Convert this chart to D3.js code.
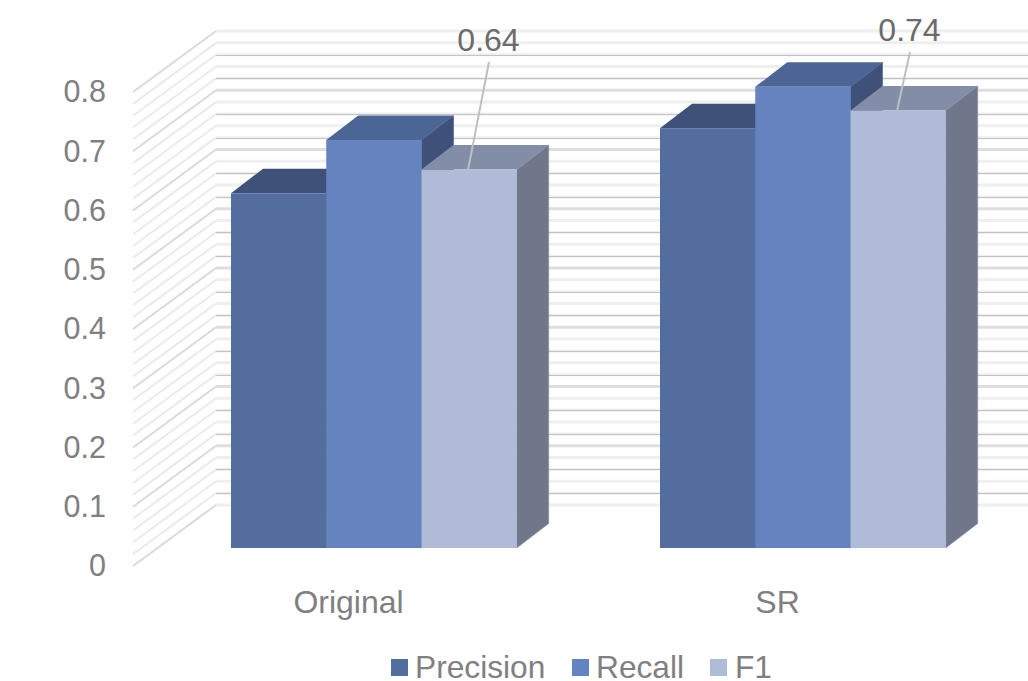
<!DOCTYPE html>
<html>
<head>
<meta charset="utf-8">
<script src="https://cdn.jsdelivr.net/npm/d3@7"></script>
<style>
  html, body { margin: 0; padding: 0; background: #fff; overflow: hidden; }
  svg { display: block; font-family: "Liberation Sans", Arial, sans-serif; }
</style>
</head>
<body>
<div id="chart"></div>
<script>
const categories = ['Original', 'SR'];
const seriesNames = ['Precision', 'Recall', 'F1'];
const precision = [0.6, 0.71];
const recall = [0.69, 0.78];
const f1 = [0.64, 0.74];
const yTicks = [0, 0.1, 0.2, 0.3, 0.4, 0.5, 0.6, 0.7, 0.8];
const seriesValues = [precision, recall, f1];

(function initBar() {
  const width = 1028, height = 681;
  const colors = {
    Precision: { front: '#546d9f', top: '#3f5079', side: '#3f5079' },
    Recall:    { front: '#6583bf', top: '#4b6695', side: '#3f5179' },
    F1:        { front: '#b0bbd8', top: '#828ea8', side: '#70778a' }
  };

  const svg = d3.select('#chart').append('svg')
    .attr('width', width)
    .attr('height', height)
    .attr('viewBox', `0 0 ${width} ${height}`);

  // same unit height, three depths: axis edge, bar front, back wall
  const yFront = d3.scaleLinear().domain([0, 0.8]).range([566, 92]);
  const yBar = d3.scaleLinear().domain([0, 0.8]).range([548, 75]);
  const yBack = d3.scaleLinear().domain([0, 0.8]).range([505, 31]);
  const wallLeft = 133, wallBack = 216;
  const depthX = 32, depthY = -24.5;

  const x0 = d3.scaleBand().domain(categories).range([159.5, 1017.5]);
  const x1 = d3.scaleBand().domain(seriesNames).range([71.5, 357.2]);

  // Grid every 0.02. The wall lines in the picture come in soft bands and
  // sharper thin lines, so draw a band for each and a thin line on some.
  const gridValues = yBack.ticks(40);
  const gridIndex = v => Math.round(v / 0.02);
  const isEdge = v => gridIndex(v) === 0 || gridIndex(v) === 40;
  const isMajor = v => gridIndex(v) % 5 === 0;
  const isSharp = v => !isMajor(v) && gridIndex(v) % 5 % 2 === 1;

  const gridG = svg.append('g').attr('class', 'grid').attr('fill', 'none');
  gridG.selectAll('line.band').data(gridValues).join('line')
    .attr('class', 'band')
    .attr('x1', wallBack).attr('x2', width)
    .attr('y1', d => yBack(d)).attr('y2', d => yBack(d))
    .attr('stroke', d => isMajor(d) && !isEdge(d) ? '#dedede' : '#efefef')
    .attr('stroke-width', 3);
  gridG.selectAll('line.sharp').data(gridValues.filter(isSharp)).join('line')
    .attr('class', 'sharp')
    .attr('x1', wallBack).attr('x2', width)
    .attr('y1', d => Math.round(yBack(d)) + 0.5).attr('y2', d => Math.round(yBack(d)) + 0.5)
    .attr('stroke', '#c2c2c2')
    .attr('stroke-width', 1);
  gridG.selectAll('line.side').data(gridValues).join('line')
    .attr('class', 'side')
    .attr('x1', wallLeft).attr('x2', wallBack)
    .attr('y1', d => yFront(d)).attr('y2', d => yBack(d))
    .attr('stroke', d => isMajor(d) ? '#dadada' : '#ebebeb')
    .attr('stroke-width', 2);

  // Bars, left to right so later ones cover earlier sides
  const barsG = svg.append('g').attr('class', 'bars');
  const bars = [];
  categories.forEach((cat, c) => {
    seriesNames.forEach((name, s) => {
      bars.push({ cat, name, value: seriesValues[s][c] });
    });
  });
  const barX = d => x0(d.cat) + x1(d.name);
  const bw = x1.bandwidth();
  const pts = arr => arr.map(p => p.join(',')).join(' ');

  const barG = barsG.selectAll('g').data(bars).join('g');
  barG.append('polygon')
    .attr('fill', d => colors[d.name].side)
    .attr('stroke', d => d3.color(colors[d.name].side).brighter(0.6))
    .attr('stroke-width', 0.75)
    .attr('points', d => {
      const r = barX(d) + bw, t = yBar(d.value), b = yBar(0);
      return pts([[r, t], [r + depthX, t + depthY], [r + depthX, b + depthY], [r, b]]);
    });
  barG.append('polygon')
    .attr('fill', d => colors[d.name].top)
    .attr('points', d => {
      const l = barX(d), t = yBar(d.value);
      return pts([[l, t], [l + depthX, t + depthY], [l + bw + depthX, t + depthY], [l + bw, t]]);
    });
  barG.append('rect')
    .attr('x', barX)
    .attr('y', d => yBar(d.value))
    .attr('width', bw)
    .attr('height', d => yBar(0) - yBar(d.value))
    .attr('fill', d => colors[d.name].front);

  // Axes
  const gy = svg.append('g').attr('class', 'axis y')
    .attr('transform', 'translate(106,0)')
    .call(d3.axisLeft(yFront).tickValues(yTicks).tickFormat(d3.format('~g')).tickSize(0).tickPadding(0));
  const gx = svg.append('g').attr('class', 'axis x')
    .attr('transform', 'translate(-25.5,590)')
    .call(d3.axisBottom(x0).tickSize(0).tickPadding(0));
  [gy, gx].forEach(a => {
    a.select('.domain').remove();
    a.selectAll('text')
      .attr('fill', '#808080')
      .attr('font-family', '"Liberation Sans", Arial, sans-serif');
  });
  gy.selectAll('text').attr('font-size', 30.5);
  gx.selectAll('text').attr('font-size', 32).attr('dy', '0.71em').attr('y', 0);

  // F1 labels with leader lines
  const labelsG = svg.append('g').attr('class', 'bar-labels');
  const labelled = bars.filter(d => d.name === 'F1');
  const leaderTops = [[489, 62], [910, 52]];
  labelled.forEach((d, i) => {
    const ax = barX(d) + bw / 2;
    labelsG.append('line')
      .attr('x1', leaderTops[i][0]).attr('y1', leaderTops[i][1])
      .attr('x2', ax - 1).attr('y2', yBar(d.value))
      .attr('stroke', '#bfbfbf')
      .attr('stroke-width', 2);
    labelsG.append('text')
      .attr('x', leaderTops[i][0] - 0.5)
      .attr('y', leaderTops[i][1] - 11)
      .attr('text-anchor', 'middle')
      .attr('fill', '#6b6b6b')
      .attr('font-size', 32)
      .text(d3.format('.2f')(d.value));
  });

  // Legend
  const legendX = [391, 572, 710];
  const legend = svg.append('g').attr('class', 'legend')
    .selectAll('g').data(seriesNames).join('g')
    .attr('transform', (d, i) => `translate(${legendX[i]},659)`);
  legend.append('rect')
    .attr('width', 17).attr('height', 17)
    .attr('fill', d => colors[d].front);
  legend.append('text')
    .attr('x', (d, i) => i === 2 ? 25 : 24)
    .attr('y', 19)
    .attr('fill', '#808080')
    .attr('font-size', 31.7)
    .text(d => d);
})();
</script>
</body>
</html>
